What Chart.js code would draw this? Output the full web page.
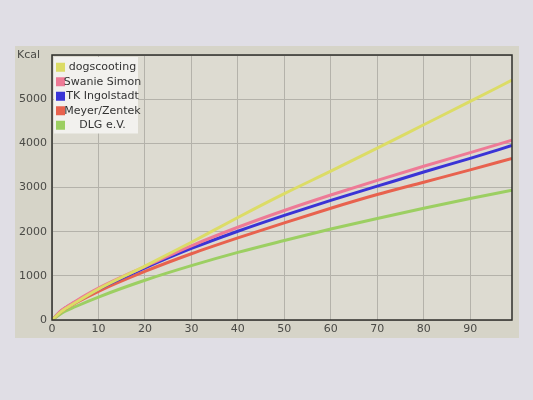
<!DOCTYPE html>
<html>
<head>
<meta charset="utf-8">
<script src="https://cdn.jsdelivr.net/npm/chart.js@4.4.1/dist/chart.umd.min.js"></script>
<style>
  html, body { margin: 0; padding: 0; background: #e2e0e6; }
  #wrap { width: 533px; height: 400px; }
</style>
</head>
<body>
<div id="wrap"><canvas id="myChart" width="533" height="400"></canvas></div>
<script>
var weights = [0, 2, 5, 10, 20, 30, 40, 50, 60, 70, 80, 90, 99];

var dogscooting = [0, 190, 390, 700, 1220, 1760, 2320, 2860, 3370, 3890, 4420, 4950, 5430];
var swanieSimon = [0, 215, 420, 720, 1210, 1680, 2100, 2480, 2830, 3160, 3480, 3790, 4070];
var tkIngolstadt = [0, 205, 405, 700, 1180, 1620, 2010, 2370, 2710, 3030, 3350, 3660, 3950];
var meyerZentek = [0, 190, 380, 650, 1100, 1500, 1860, 2200, 2530, 2840, 3120, 3400, 3660];
var dlg = [0, 150, 300, 520, 900, 1230, 1530, 1800, 2060, 2300, 2530, 2750, 2940];

var yTicks = [0, 1000, 2000, 3000, 4000, 5000];
var xTicks = [0, 10, 20, 30, 40, 50, 60, 70, 80, 90];

function pts(vals) {
  return weights.map(function(w, i) { return { x: w, y: vals[i] }; });
}

function line(label, vals, color) {
  return {
    label: label,
    data: pts(vals),
    borderColor: color,
    backgroundColor: color,
    borderWidth: 3,
    pointRadius: 0,
    cubicInterpolationMode: 'monotone'
  };
}

// panel behind the chart, like the screen in the photo
var panelBg = {
  id: 'panelBg',
  beforeDraw: function(chart) {
    var ctx = chart.ctx, a = chart.chartArea;
    ctx.save();
    ctx.fillStyle = '#e0dee5';
    ctx.fillRect(0, 0, chart.width, chart.height);
    ctx.fillStyle = '#d6d4c8';
    ctx.fillRect(15, 46, 504, 292);
    ctx.fillStyle = '#dddbd1';
    ctx.fillRect(a.left, a.top, a.right - a.left, a.bottom - a.top);
    ctx.restore();
  },
  afterDatasetsDraw: function(chart) {
    var ctx = chart.ctx, a = chart.chartArea;
    ctx.save();
    ctx.strokeStyle = '#2e2e2a';
    ctx.lineWidth = 1.5;
    ctx.strokeRect(a.left, a.top, a.right - a.left, a.bottom - a.top);

    // legend box in the top-left corner of the plot
    var x0 = a.left + 2, y0 = a.top + 2, w = 84, rowH = 14.5;
    var sets = chart.data.datasets;
    ctx.fillStyle = '#f2f1ee';
    ctx.fillRect(x0, y0, w, rowH * sets.length + 4);
    ctx.font = '11px "DejaVu Sans"';
    ctx.textBaseline = 'middle';
    ctx.textAlign = 'center';
    sets.forEach(function(ds, i) {
      var cy = y0 + 3 + rowH * i + rowH / 2;
      ctx.fillStyle = ds.borderColor;
      ctx.fillRect(x0 + 2, cy - 4.5, 9, 9);
      ctx.fillStyle = '#333';
      ctx.fillText(ds.label, x0 + 13 + (w - 13) / 2, cy);
    });
    ctx.restore();
  }
};

new Chart('myChart', {
  type: 'line',
  data: {
    datasets: [
      line('dogscooting', dogscooting, '#dcdc66'),
      line('Swanie Simon', swanieSimon, '#ee7a96'),
      line('TK Ingolstadt', tkIngolstadt, '#3a34d6'),
      line('Meyer/Zentek', meyerZentek, '#e8624e'),
      line('DLG e.V.', dlg, '#9ccf62')
    ]
  },
  options: {
    responsive: false,
    animation: false,
    layout: {
      padding: { left: 0, top: 55, right: 21, bottom: 60 }
    },
    plugins: {
      legend: { display: false },
      title: { display: false },
      tooltip: { enabled: false }
    },
    scales: {
      x: {
        type: 'linear',
        min: 0,
        max: 99,
        afterFit: function(s) { s.height = 20; },
        afterBuildTicks: function(s) { s.ticks = xTicks.map(function(v) { return { value: v }; }); },
        ticks: {
          color: '#4a4a46',
          padding: 3,
          maxRotation: 0,
          font: { size: 11, family: 'DejaVu Sans' }
        },
        grid: { color: '#b4b2aa', lineWidth: 1, drawTicks: false },
        border: { display: false }
      },
      y: {
        min: 0,
        max: 6000,
        afterFit: function(s) { s.width = 52; },
        afterBuildTicks: function(s) {
          s.ticks = yTicks.concat([6000]).map(function(v) { return { value: v }; });
        },
        ticks: {
          color: '#4a4a46',
          padding: 5,
          font: { size: 11, family: 'DejaVu Sans' },
          callback: function(v) { return v === 6000 ? 'Kcal  ' : v; }
        },
        grid: { color: '#b4b2aa', lineWidth: 1, drawTicks: false },
        border: { display: false }
      }
    }
  },
  plugins: [panelBg]
});
</script>
</body>
</html>
